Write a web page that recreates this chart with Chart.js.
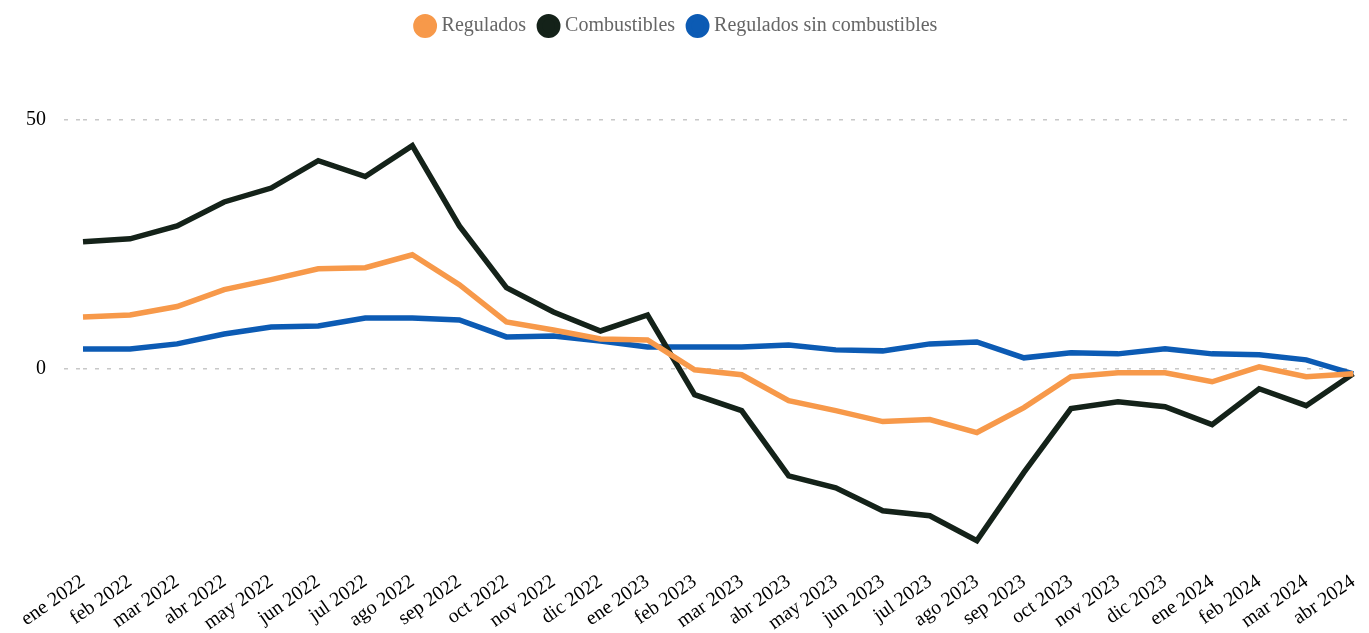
<!DOCTYPE html>
<html>
<head>
<meta charset="utf-8">
<script src="https://cdn.jsdelivr.net/npm/chart.js@4.4.1/dist/chart.umd.min.js"></script>
<style>
    body { margin: 0; background: #fff; }
    #wrap { width: 1369px; height: 633px; position: relative; }
</style>
</head>
<body>
<div id="wrap"><canvas id="chart"></canvas></div>
<script>
// Monthly labels
const months = [
    'ene 2022', 'feb 2022', 'mar 2022', 'abr 2022', 'may 2022', 'jun 2022', 'jul 2022',
    'ago 2022', 'sep 2022', 'oct 2022', 'nov 2022', 'dic 2022', 'ene 2023', 'feb 2023',
    'mar 2023', 'abr 2023', 'may 2023', 'jun 2023', 'jul 2023', 'ago 2023', 'sep 2023',
    'oct 2023', 'nov 2023', 'dic 2023', 'ene 2024', 'feb 2024', 'mar 2024', 'abr 2024'
];

// Series values
const regulados = [
    10.4, 10.8, 12.5, 15.9, 17.9, 20.1, 20.3, 22.9, 16.9, 9.4, 7.8, 6.0, 5.8, -0.2,
    -1.2, -6.4, -8.4, -10.6, -10.2, -12.8, -7.8, -1.6, -0.8, -0.8, -2.6, 0.4, -1.6, -1.0
];
const combustibles = [
    25.5, 26.1, 28.7, 33.5, 36.3, 41.8, 38.6, 44.8, 28.7, 16.3, 11.4, 7.6, 10.8, -5.2,
    -8.4, -21.5, -23.9, -28.5, -29.5, -34.5, -20.8, -8.0, -6.6, -7.6, -11.2, -4.0, -7.4, -1.0
];
const reguladosSinComb = [
    4.0, 4.0, 5.0, 7.0, 8.4, 8.6, 10.2, 10.2, 9.8, 6.4, 6.6, 5.6, 4.4, 4.4,
    4.4, 4.8, 3.8, 3.6, 5.0, 5.4, 2.2, 3.2, 3.0, 4.0, 3.0, 2.8, 1.8, -1.0
];

// Only these y ticks are shown
const yTicks = [0, 50];

const serif = "'Liberation Serif', 'Times New Roman', serif";

function lineSet(label, data, color) {
    return {
        label: label,
        data: data,
        borderColor: color,
        backgroundColor: color,
        borderWidth: 5.5,
        pointRadius: 0,
        tension: 0,
        fill: false
    };
}

// Leave some room between the legend and the plot
const legendGap = {
    id: 'legendGap',
    beforeInit(chart) {
        const fit = chart.legend.fit;
        chart.legend.fit = function() {
            fit.bind(chart.legend)();
            this.height += 24;
        };
    }
};

new Chart(document.getElementById('chart'), {
    type: 'line',
    data: {
        labels: months,
        datasets: [
            lineSet('Regulados', regulados, '#F7994A'),
            lineSet('Combustibles', combustibles, '#142219'),
            lineSet('Regulados sin combustibles', reguladosSinComb, '#0C5BB4')
        ]
    },
    plugins: [legendGap],
    options: {
        responsive: true,
        maintainAspectRatio: false,
        animation: false,
        layout: {
            padding: { top: 0, right: 13, bottom: 0, left: 0 }
        },
        plugins: {
            legend: {
                position: 'top',
                labels: {
                    usePointStyle: true,
                    pointStyle: 'circle',
                    boxWidth: 13,
                    boxHeight: 13,
                    padding: 16,
                    color: '#666',
                    font: { family: serif, size: 20 }
                }
            },
            tooltip: { enabled: false }
        },
        scales: {
            x: {
                offset: false,
                grid: { display: false, drawTicks: false },
                border: { display: false },
                afterFit: function(scale) {
                    scale.height = 65;
                },
                ticks: {
                    color: '#000',
                    minRotation: 35,
                    maxRotation: 35,
                    autoSkip: false,
                    padding: 2,
                    font: { family: serif, size: 20 }
                }
            },
            y: {
                min: -40,
                max: 60,
                afterBuildTicks: function(scale) {
                    scale.ticks = yTicks.map(v => ({ value: v }));
                },
                afterFit: function(scale) {
                    scale.width = 83;
                },
                border: { display: false, dash: [4, 8] },
                grid: {
                    color: '#c8c8c8',
                    lineWidth: 1.5,
                    tickLength: 19,
                    tickColor: '#c8c8c8',
                    tickBorderDash: [4, 8]
                },
                ticks: {
                    color: '#000',
                    padding: 18,
                    font: { family: serif, size: 20 }
                }
            }
        }
    }
});
</script>
</body>
</html>
